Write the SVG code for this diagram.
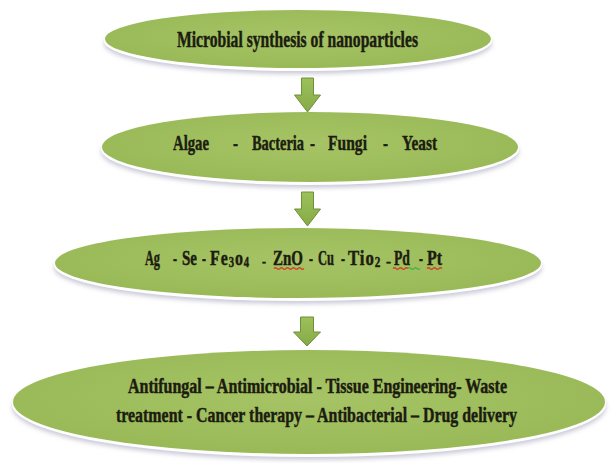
<svg xmlns="http://www.w3.org/2000/svg" width="614" height="463" viewBox="0 0 614 463">
<defs>
<style>
.oval{fill:url(#g);}
.rim{fill:#ffffff;filter:url(#sh);}
.t{font-family:"Liberation Serif","Times New Roman",serif;font-weight:bold;fill:#1c1c10;stroke:#1c1c10;stroke-width:0.45;}
.arrow{fill:url(#ag);stroke:#6f8f38;stroke-width:1;}
.sp{fill:none;stroke:#d2412a;stroke-width:1.2;}
.sg{fill:none;stroke:#4caf50;stroke-width:1.2;}
</style>
<radialGradient id="g" cx="50%" cy="45%" r="60%">
<stop offset="0" stop-color="#a6c465"/>
<stop offset="1" stop-color="#98b856"/>
</radialGradient>
<linearGradient id="ag" x1="0" y1="0" x2="0" y2="1">
<stop offset="0" stop-color="#9cc05a"/>
<stop offset="1" stop-color="#86aa46"/>
</linearGradient>
<filter id="sh" x="-10%" y="-30%" width="120%" height="170%">
<feGaussianBlur in="SourceAlpha" stdDeviation="2"/>
<feOffset dy="3" result="b"/>
<feFlood flood-color="#a9a9c0" flood-opacity="0.6"/>
<feComposite in2="b" operator="in" result="s"/>
<feMerge><feMergeNode in="s"/><feMergeNode in="SourceGraphic"/></feMerge>
</filter>
</defs>
<rect width="614" height="463" fill="#ffffff"/>

<g id="connectors">
<path class="arrow" d="M301.5,78 H313.5 V95 H320.5 L307.5,112 L294.5,95 H301.5 Z"/>
<path class="arrow" d="M301.5,192 H313.5 V209 H320.5 L307.5,226 L294.5,209 H301.5 Z"/>
<path class="arrow" d="M300.5,317 H313.5 V332 H320.5 L307,346 L293.5,332 H300.5 Z"/>
</g>

<g id="node1">
<ellipse class="rim" cx="298" cy="41" rx="194" ry="30"/>
<ellipse class="oval" cx="298" cy="39" rx="193" ry="29"/>
<text class="t" x="177" y="47" font-size="23" textLength="241" lengthAdjust="spacingAndGlyphs">Microbial synthesis of nanoparticles</text>
</g>

<g id="node2">
<ellipse class="rim" cx="310" cy="149" rx="209" ry="36"/>
<ellipse class="oval" cx="310" cy="147" rx="208" ry="35"/>
<text class="t" x="173" y="150" font-size="22" textLength="36" lengthAdjust="spacingAndGlyphs">Algae</text>
<text class="t" x="233" y="150" font-size="22" textLength="5" lengthAdjust="spacingAndGlyphs">-</text>
<text class="t" x="252" y="150" font-size="22" textLength="52" lengthAdjust="spacingAndGlyphs">Bacteria</text>
<text class="t" x="310" y="150" font-size="22" textLength="5" lengthAdjust="spacingAndGlyphs">-</text>
<text class="t" x="328" y="150" font-size="22" textLength="39" lengthAdjust="spacingAndGlyphs">Fungi</text>
<text class="t" x="383" y="150" font-size="22" textLength="5" lengthAdjust="spacingAndGlyphs">-</text>
<text class="t" x="402" y="150" font-size="22" textLength="35" lengthAdjust="spacingAndGlyphs">Yeast</text>
</g>

<g id="node3">
<ellipse class="rim" cx="298" cy="265" rx="244" ry="36"/>
<ellipse class="oval" cx="298" cy="263" rx="243" ry="35"/>
<text class="t" x="145" y="265" font-size="21" textLength="15" lengthAdjust="spacingAndGlyphs">Ag</text>
<text class="t" x="173" y="265" font-size="21" textLength="4" lengthAdjust="spacingAndGlyphs">-</text>
<text class="t" x="182" y="265" font-size="21" textLength="15" lengthAdjust="spacingAndGlyphs">Se</text>
<text class="t" x="202" y="265" font-size="21" textLength="4" lengthAdjust="spacingAndGlyphs">-</text>
<text class="t" transform="translate(210 265) scale(0.76 1)" x="0" y="0" font-size="21" letter-spacing="1.2">Fe<tspan font-size="14" dy="2">3</tspan><tspan dy="-2">o</tspan><tspan font-size="14" dy="2">4</tspan></text>
<text class="t" x="262" y="266" font-size="14" textLength="4" lengthAdjust="spacingAndGlyphs">-</text>
<text class="t" x="273" y="265" font-size="21" textLength="30" lengthAdjust="spacingAndGlyphs">ZnO</text>
<text class="t" x="309" y="265" font-size="21" textLength="4" lengthAdjust="spacingAndGlyphs">-</text>
<text class="t" x="318" y="265" font-size="21" textLength="16" lengthAdjust="spacingAndGlyphs">Cu</text>
<text class="t" x="341" y="265" font-size="21" textLength="4" lengthAdjust="spacingAndGlyphs">-</text>
<text class="t" transform="translate(348 265) scale(0.8 1)" x="0" y="0" font-size="21" letter-spacing="1.2">Tio<tspan font-size="14" dy="2">2</tspan></text>
<text class="t" x="386" y="266" font-size="14" textLength="5" lengthAdjust="spacingAndGlyphs">-</text>
<text class="t" x="394" y="265" font-size="21" textLength="16" lengthAdjust="spacingAndGlyphs">Pd</text>
<text class="t" x="419" y="265" font-size="21" textLength="4" lengthAdjust="spacingAndGlyphs">-</text>
<text class="t" x="427" y="265" font-size="21" textLength="15" lengthAdjust="spacingAndGlyphs">Pt</text>
<path class="sp" d="M274,268.5 q1.5,-1.5 3,0 t3,0 t3,0 t3,0 t3,0 t3,0 t3,0 t3,0 t3,0 t3,0"/>
<path class="sp" d="M393,268.5 q1.5,-1.5 3,0 t3,0 t3,0 t3,0 t3,0"/>
<path class="sg" d="M408,268.5 q1.5,-1.5 3,0 t3,0 t3,0 t3,0"/>
<path class="sp" d="M427,268.5 q1.5,-1.5 3,0 t3,0 t3,0 t3,0 t3,0"/>
</g>

<g id="node4">
<ellipse class="rim" cx="309" cy="404" rx="297" ry="53"/>
<ellipse class="oval" cx="309" cy="402" rx="296" ry="52"/>
<text class="t" x="128" y="393" font-size="20" textLength="379" lengthAdjust="spacingAndGlyphs">Antifungal  – Antimicrobial  - Tissue Engineering-  Waste</text>
<text class="t" x="116" y="422" font-size="20" textLength="401" lengthAdjust="spacingAndGlyphs">treatment  - Cancer therapy  – Antibacterial  – Drug delivery</text>
</g>
</svg>
